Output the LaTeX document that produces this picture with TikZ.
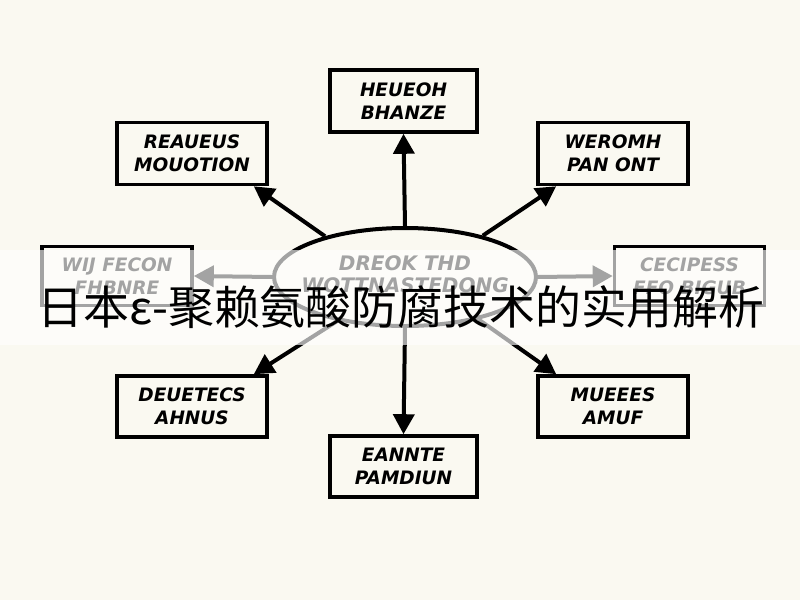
\documentclass[tikz,border=0pt]{standalone}
\usepackage{fontspec}
\usetikzlibrary{arrows.meta,shapes.geometric,calc}
\newfontfamily\boxfont{DejaVu Sans}
\newfontfamily\cjk{Noto Sans CJK SC}
\definecolor{paper}{RGB}{250,249,241}
\begin{document}
\begin{tikzpicture}[x=1pt,y=-1pt,
  box/.style={draw=black,line width=3.6pt,fill=paper,rectangle,inner sep=0pt,
    minimum width=150pt,minimum height=62pt,align=center,
    font=\boxfont\bfseries\itshape\fontsize{18.5}{23}\selectfont},
  conn/.style={line width=4pt,-{Triangle[length=20pt,width=21pt]}}]
\useasboundingbox (0,0) rectangle (800,600);
\fill[paper] (0,0) rectangle (800,600);
% nodes
\node[draw=black,line width=4pt,ellipse,fill=paper,inner sep=0pt,minimum width=262pt,minimum height=98pt] (e) at (405,277) {};
\node[align=center,inner sep=0pt,font=\boxfont\bfseries\itshape\fontsize{20}{22}\selectfont] (etext) at (405,274)
  {DREOK THD\\WOTTNASTEDONG};
\node[box,minimum width=147pt] (t) at (403.5,101) {HEUEOH\\BHANZE};
\node[box] (tl) at (192,153.5) {REAUEUS\\MOUOTION};
\node[box] (tr) at (613,153.5) {WEROMH\\PAN ONT};
\node[box,minimum height=59pt] (l) at (117,276) {WIJ FECON\\FHBNRE};
\node[box,minimum height=59pt] (r) at (689.5,276) {CECIPESS\\FFO BIGUB};
\node[box,minimum height=61pt] (bl) at (192,406.5) {DEUETECS\\AHNUS};
\node[box,minimum height=61pt] (br) at (613,406.5) {MUEEES\\AMUF};
\node[box,minimum width=147pt,minimum height=61pt] (b) at (403.5,466.5) {EANNTE\\PAMDIUN};
% connectors
\draw[conn] (e.north) -- (t.south);
\draw[conn] (e.153) -- ($(tl.south east)+(-15,0)$);
\draw[conn] (e.28) -- ($(tr.south west)+(20,0)$);
\draw[conn] (e.west) -- (l.east);
\draw[conn] (e.east) -- (r.west);
\draw[conn] (e.213) -- ($(bl.north east)+(-15,0)$);
\draw[conn] (e.-30) -- ($(br.north west)+(20,0)$);
\draw[conn] (e.south) -- (b.north);
% fading band behind the title
\fill[white,opacity=0.64] (0,250) rectangle (800,345);
% title
\node[inner sep=0pt] (title) at (401,307) {\resizebox{727pt}{!}{\cjk\fontsize{50}{56}\selectfont 日本ε-聚赖氨酸防腐技术的实用解析}};
\end{tikzpicture}
\end{document}
